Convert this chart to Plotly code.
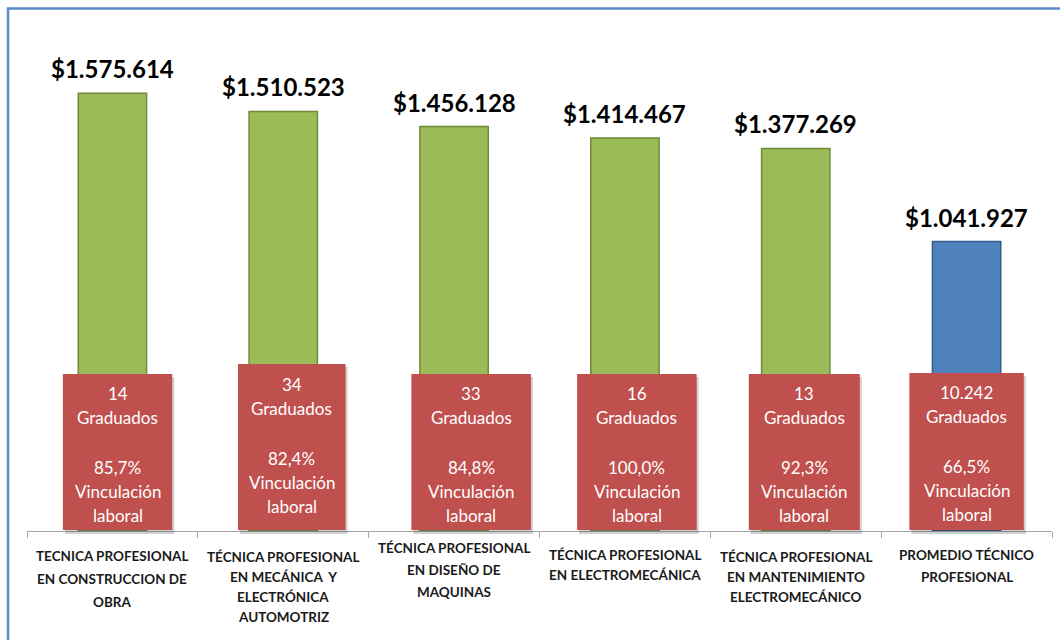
import plotly.graph_objects as go

# ---- data ----
categories = [
    "TECNICA PROFESIONAL<br>EN CONSTRUCCION DE<br>OBRA",
    "TÉCNICA PROFESIONAL<br>EN MECÁNICA  Y<br>ELECTRÓNICA<br>AUTOMOTRIZ",
    "TÉCNICA PROFESIONAL<br>EN DISEÑO DE<br>MAQUINAS",
    "TÉCNICA PROFESIONAL<br>EN ELECTROMECÁNICA",
    "TÉCNICA PROFESIONAL<br>EN MANTENIMIENTO<br>ELECTROMECÁNICO",
    "PROMEDIO TÉCNICO<br>PROFESIONAL",
]
salaries = [1575614, 1510523, 1456128, 1414467, 1377269, 1041927]
graduates = [14, 34, 33, 16, 13, 10242]
employment_pct = [85.7, 82.4, 84.8, 100.0, 92.3, 66.5]

# ---- styles ----
GREEN, GREEN_LINE = "#9BBB59", "#6E8A37"
BLUE, BLUE_LINE = "#4F81BD", "#385D8A"
RED = "#C0504D"
bar_colors = [GREEN] * 5 + [BLUE]
bar_lines = [GREEN_LINE] * 5 + [BLUE_LINE]
# box layout (center offset, width in category units; top in paper units; text shift px)
box_dx = [0.03, 0.05, 0.10, 0.07, 0.05, 0.0]
box_w = [0.64, 0.63, 0.70, 0.70, 0.65, 0.67]
box_top = [0.314, 0.334, 0.314, 0.314, 0.314, 0.316]
box_shift = [0, 9, 0, 0, 0, 1]
line_offsets = [138, 114, 64, 40, 16]
# category label layout: first-line distance below axis (px) and line spacing (px)
label_first = [25, 26, 17, 24, 26, 24]
label_step = [23, 20, 22, 20, 20, 22]


def money(v):
    return "$" + f"{v:,}".replace(",", ".")


def num(v):
    return f"{v:,}".replace(",", ".")


def pct(v):
    return f"{v:.1f}".replace(".", ",") + "%"


fig = go.Figure()
fig.add_trace(go.Bar(
    x=categories, y=salaries, width=0.4,
    marker=dict(color=bar_colors, line=dict(color=bar_lines, width=1.5)),
    hoverinfo="skip", showlegend=False,
))

shapes = []
annotations = []
for i, (cat, v) in enumerate(zip(categories, salaries)):
    annotations.append(dict(
        x=cat, y=v, xref="x", yref="y", text=money(v), showarrow=False,
        yanchor="bottom", yshift=8,
        font=dict(family="Lato", size=24, color="#000000", weight="bold"),
    ))
    # category label, line by line
    for k, ln in enumerate(cat.split("<br>")):
        annotations.append(dict(
            x=cat, y=0, xref="x", yref="paper", text=ln, showarrow=False,
            yanchor="middle", yshift=-(label_first[i] + k * label_step[i]),
            font=dict(family="Lato", size=13.5, color="#1A1A1A", weight="bold"),
        ))
    cx = i + box_dx[i]
    # shadow
    shapes.append(dict(
        type="rect", xref="x", yref="paper",
        x0=cx - box_w[i] / 2 + 0.012, x1=cx + box_w[i] / 2 + 0.012,
        y0=-0.006, y1=box_top[i] - 0.006,
        fillcolor="rgba(0,0,0,0.18)", line=dict(width=0), layer="above",
    ))
    shapes.append(dict(
        type="rect", xref="x", yref="paper",
        x0=cx - box_w[i] / 2, x1=cx + box_w[i] / 2,
        y0=0.002, y1=box_top[i],
        fillcolor=RED, line=dict(width=0), layer="above",
    ))
    lines = [num(graduates[i]), "Graduados", pct(employment_pct[i]),
             "Vinculación", "laboral"]
    for txt, off in zip(lines, line_offsets):
        annotations.append(dict(
            x=cx, y=0, xref="x", yref="y", text=txt, showarrow=False,
            yanchor="middle", yshift=off + box_shift[i],
            font=dict(family="Lato", size=17, color="#FFFFFF"),
        ))

# outer blue frame
shapes.append(dict(
    type="rect", xref="paper", yref="paper",
    x0=-0.0185, x1=1.05, y0=-0.4, y1=1.045,
    line=dict(color="#5B8BC9", width=2.5), fillcolor="rgba(0,0,0,0)",
    layer="above",
))

fig.update_layout(
    width=1060, height=640,
    margin=dict(l=27, r=8, t=31, b=109, autoexpand=False),
    paper_bgcolor="white", plot_bgcolor="white",
    bargap=0.6,
    shapes=shapes, annotations=annotations,
    xaxis=dict(
        automargin=False,
        showline=True, linecolor="#A6A6A6", linewidth=1,
        ticks="outside", tickson="boundaries", ticklen=6, tickcolor="#A6A6A6",
        showticklabels=False,
        showgrid=False, fixedrange=True,
    ),
    yaxis=dict(
        automargin=False,
        range=[0, 1800000], visible=False, showgrid=False, fixedrange=True,
    ),
)

fig.write_html(
    "out.html",
    config={"displayModeBar": False},
    post_script="document.body.style.margin='0';document.body.style.overflow='hidden';",
)
